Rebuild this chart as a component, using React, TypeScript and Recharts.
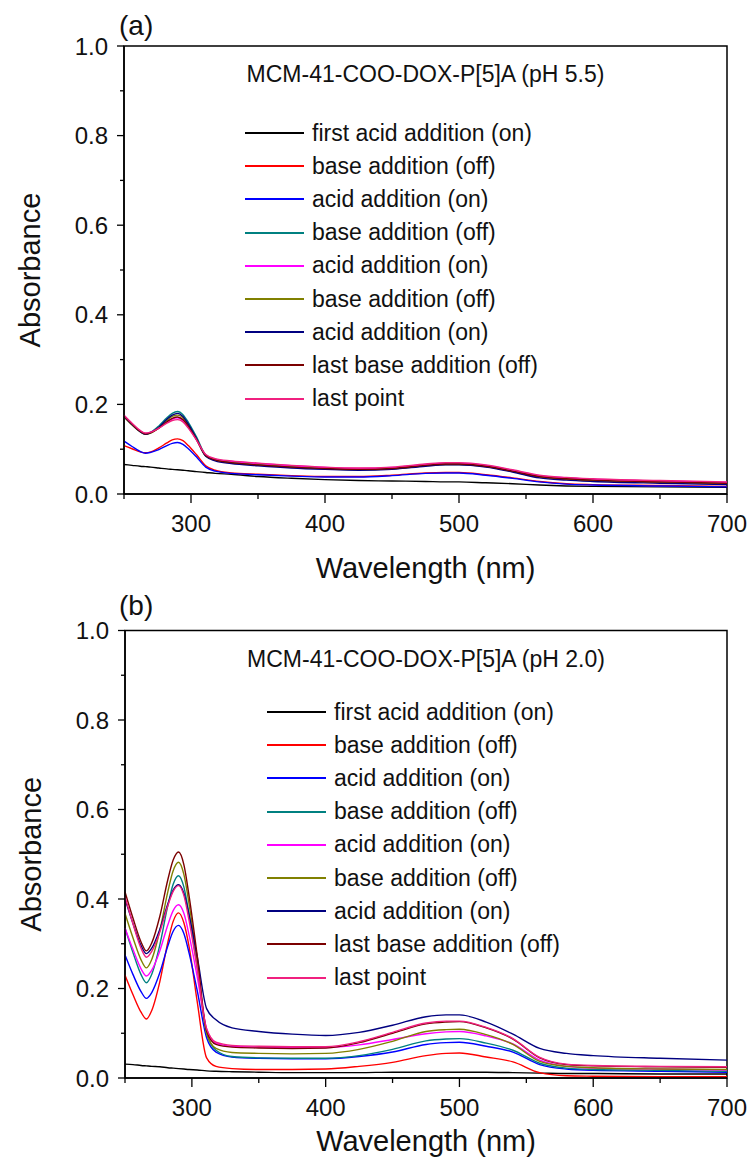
import React from 'react';
import { LineChart, Line, XAxis, YAxis, Legend, ReferenceArea, Label } from 'recharts';

const FONT = '"Liberation Sans", Arial, sans-serif';

// wavelength grid (nm)
const WAVELENGTHS = [250, 256, 262, 266, 270, 276, 282, 286, 290, 294, 298, 304, 311, 318, 330, 350, 375, 400, 425, 450, 475, 490, 500, 520, 540, 560, 580, 600, 650, 700];

const SERIES_NAMES = [
  'first acid addition (on)',
  'base addition (off)',
  'acid addition (on)',
  'base addition (off)',
  'acid addition (on)',
  'base addition (off)',
  'acid addition (on)',
  'last base addition (off)',
  'last point',
];
const SERIES_COLORS = ['#000000', '#ff0000', '#0000ff', '#008080', '#ff00ff', '#808000', '#000080', '#7b0000', '#f0207f'];

const X_TICKS = [250, 300, 350, 400, 450, 500, 550, 600, 650, 700];
const Y_TICKS = [0, 0.1, 0.2, 0.3, 0.4, 0.5, 0.6, 0.7, 0.8, 0.9, 1.0];

// (a) pH 5.5
const A_FIRST_ACID = [0.066, 0.064, 0.062, 0.061, 0.060, 0.058, 0.056, 0.055, 0.054, 0.053, 0.052, 0.050, 0.048, 0.046, 0.044, 0.039, 0.035, 0.032, 0.030, 0.029, 0.028, 0.027, 0.027, 0.025, 0.023, 0.020, 0.018, 0.017, 0.016, 0.015];
const A_BASE_1 = [0.108, 0.101, 0.094, 0.092, 0.094, 0.103, 0.114, 0.121, 0.123, 0.119, 0.108, 0.088, 0.063, 0.053, 0.047, 0.044, 0.041, 0.039, 0.039, 0.042, 0.047, 0.048, 0.048, 0.043, 0.036, 0.028, 0.023, 0.021, 0.019, 0.017];
const A_ACID_1 = [0.118, 0.106, 0.095, 0.091, 0.093, 0.099, 0.108, 0.113, 0.115, 0.111, 0.101, 0.083, 0.060, 0.051, 0.046, 0.043, 0.040, 0.038, 0.038, 0.041, 0.046, 0.047, 0.047, 0.042, 0.035, 0.027, 0.022, 0.020, 0.018, 0.016];
const A_BASE_2 = [0.174, 0.156, 0.140, 0.134, 0.138, 0.152, 0.170, 0.180, 0.184, 0.177, 0.160, 0.128, 0.087, 0.077, 0.071, 0.066, 0.061, 0.057, 0.055, 0.057, 0.064, 0.067, 0.067, 0.062, 0.051, 0.039, 0.034, 0.031, 0.027, 0.024];
const A_ACID_2 = [0.175, 0.157, 0.141, 0.135, 0.138, 0.147, 0.160, 0.167, 0.170, 0.164, 0.149, 0.122, 0.087, 0.078, 0.073, 0.068, 0.063, 0.059, 0.057, 0.059, 0.066, 0.069, 0.069, 0.064, 0.053, 0.041, 0.036, 0.033, 0.029, 0.026];
const A_BASE_3 = [0.172, 0.154, 0.139, 0.133, 0.136, 0.148, 0.164, 0.173, 0.176, 0.170, 0.153, 0.123, 0.085, 0.076, 0.070, 0.065, 0.060, 0.056, 0.054, 0.056, 0.063, 0.066, 0.066, 0.061, 0.050, 0.038, 0.033, 0.030, 0.026, 0.023];
const A_ACID_3 = [0.173, 0.155, 0.139, 0.133, 0.137, 0.149, 0.167, 0.176, 0.180, 0.173, 0.156, 0.124, 0.084, 0.074, 0.068, 0.063, 0.058, 0.055, 0.053, 0.055, 0.062, 0.065, 0.065, 0.060, 0.049, 0.036, 0.031, 0.028, 0.024, 0.021];
const A_LAST_BASE = [0.174, 0.156, 0.140, 0.134, 0.137, 0.147, 0.161, 0.169, 0.172, 0.166, 0.151, 0.122, 0.086, 0.076, 0.070, 0.065, 0.060, 0.057, 0.055, 0.057, 0.064, 0.067, 0.067, 0.062, 0.051, 0.039, 0.034, 0.031, 0.027, 0.024];
const A_LAST_POINT = [0.176, 0.158, 0.142, 0.136, 0.138, 0.147, 0.158, 0.164, 0.166, 0.161, 0.147, 0.121, 0.088, 0.079, 0.074, 0.069, 0.064, 0.060, 0.058, 0.060, 0.067, 0.070, 0.070, 0.065, 0.054, 0.042, 0.037, 0.034, 0.030, 0.027];

// (b) pH 2.0
const B_FIRST_ACID = [0.031, 0.030, 0.028, 0.027, 0.026, 0.025, 0.023, 0.022, 0.021, 0.020, 0.019, 0.018, 0.016, 0.015, 0.014, 0.013, 0.012, 0.012, 0.012, 0.013, 0.013, 0.013, 0.013, 0.013, 0.012, 0.011, 0.010, 0.010, 0.009, 0.009];
const B_BASE_1 = [0.230, 0.186, 0.147, 0.132, 0.151, 0.215, 0.303, 0.350, 0.369, 0.347, 0.292, 0.170, 0.045, 0.026, 0.021, 0.019, 0.019, 0.020, 0.026, 0.035, 0.050, 0.055, 0.056, 0.047, 0.036, 0.012, 0.005, 0.004, 0.003, 0.003];
const B_ACID_1 = [0.275, 0.231, 0.193, 0.178, 0.191, 0.235, 0.295, 0.328, 0.341, 0.323, 0.278, 0.195, 0.090, 0.058, 0.047, 0.044, 0.043, 0.043, 0.048, 0.058, 0.075, 0.079, 0.080, 0.071, 0.058, 0.030, 0.020, 0.017, 0.015, 0.013];
const B_BASE_2 = [0.335, 0.280, 0.231, 0.213, 0.232, 0.297, 0.385, 0.433, 0.452, 0.427, 0.364, 0.248, 0.100, 0.062, 0.048, 0.045, 0.044, 0.044, 0.050, 0.064, 0.083, 0.087, 0.088, 0.078, 0.062, 0.033, 0.022, 0.019, 0.017, 0.015];
const B_ACID_2 = [0.335, 0.287, 0.244, 0.228, 0.241, 0.284, 0.342, 0.374, 0.387, 0.368, 0.318, 0.226, 0.110, 0.078, 0.071, 0.069, 0.068, 0.068, 0.074, 0.086, 0.099, 0.103, 0.104, 0.094, 0.076, 0.040, 0.026, 0.022, 0.020, 0.018];
const B_BASE_3 = [0.368, 0.313, 0.264, 0.246, 0.265, 0.329, 0.416, 0.463, 0.482, 0.455, 0.387, 0.260, 0.100, 0.066, 0.057, 0.055, 0.054, 0.055, 0.064, 0.082, 0.104, 0.108, 0.109, 0.097, 0.075, 0.037, 0.026, 0.023, 0.020, 0.019];
const B_ACID_3 = [0.400, 0.345, 0.296, 0.278, 0.290, 0.332, 0.389, 0.420, 0.432, 0.413, 0.363, 0.271, 0.155, 0.130, 0.112, 0.104, 0.098, 0.095, 0.102, 0.118, 0.137, 0.141, 0.141, 0.125, 0.098, 0.066, 0.055, 0.050, 0.044, 0.040];
const B_LAST_BASE = [0.416, 0.357, 0.304, 0.284, 0.302, 0.361, 0.443, 0.487, 0.505, 0.477, 0.405, 0.273, 0.105, 0.075, 0.069, 0.067, 0.066, 0.067, 0.079, 0.100, 0.121, 0.125, 0.126, 0.112, 0.087, 0.045, 0.030, 0.027, 0.025, 0.024];
const B_LAST_POINT = [0.405, 0.344, 0.290, 0.270, 0.283, 0.326, 0.385, 0.417, 0.430, 0.408, 0.350, 0.244, 0.110, 0.080, 0.073, 0.071, 0.070, 0.070, 0.081, 0.102, 0.123, 0.127, 0.127, 0.113, 0.088, 0.046, 0.031, 0.028, 0.026, 0.025];

const PANEL_A = [A_FIRST_ACID, A_BASE_1, A_ACID_1, A_BASE_2, A_ACID_2, A_BASE_3, A_ACID_3, A_LAST_BASE, A_LAST_POINT];
const PANEL_B = [B_FIRST_ACID, B_BASE_1, B_ACID_1, B_BASE_2, B_ACID_2, B_BASE_3, B_ACID_3, B_LAST_BASE, B_LAST_POINT];

const buildRows = (series: number[][]) =>
  WAVELENGTHS.map((w, i) => {
    const row: Record<string, number> = { w };
    series.forEach((s, k) => {
      row['s' + k] = s[i];
    });
    return row;
  });

const XTick = ({ x, y, payload }: any) => {
  const v = payload.value;
  const major = v % 100 === 0;
  return (
    <g>
      <line x1={x} x2={x} y1={y} y2={y + (major ? 9 : 5)} stroke="#000" strokeWidth={1.3} />
      {major && v !== 250 && (
        <text x={x} y={y + 29} textAnchor="middle" dominantBaseline="central" fontSize={24} fontFamily={FONT} fill="#111">
          {v}
        </text>
      )}
    </g>
  );
};

const YTick = ({ x, y, payload }: any) => {
  const v = payload.value;
  const major = Math.round(v * 10) % 2 === 0;
  return (
    <g>
      <line x1={x - (major ? 7 : 4)} x2={x} y1={y} y2={y} stroke="#000" strokeWidth={1.3} />
      {major && (
        <text x={x - 16} y={y} textAnchor="end" dominantBaseline="central" fontSize={24} fontFamily={FONT} fill="#111">
          {v.toFixed(1)}
        </text>
      )}
    </g>
  );
};

// legend keeps the series order of the original figure
const renderLegend = () => (
  <div style={{ fontFamily: FONT, fontSize: 23, color: '#111' }}>
    {SERIES_NAMES.map((name, i) => (
      <div key={i} style={{ display: 'flex', alignItems: 'center', height: 33.2, whiteSpace: 'nowrap' }}>
        <div style={{ width: 59, height: 0, borderTop: `2px solid ${SERIES_COLORS[i]}`, marginRight: 8 }} />
        <span>{name}</span>
      </div>
    ))}
  </div>
);

interface PanelProps {
  series: number[][];
  title: string;
  tag: string;
  top: number;
  height: number;
  margin: { top: number; right: number; bottom: number; left: number };
  xTitleOffset: number;
  legendLeft: number;
  legendTop: number;
}

const Panel: React.FC<PanelProps> = ({ series, title, tag, top, height, margin, xTitleOffset, legendLeft, legendTop }) => {
  const rows = buildRows(series);
  return (
    <div style={{ position: 'absolute', left: 0, top, width: 752, height }}>
      <div style={{ position: 'absolute', left: 119, top: 12, fontSize: 28, lineHeight: '28px', fontFamily: FONT, color: '#111', zIndex: 2 }}>
        {tag}
      </div>
      <LineChart width={752} height={height} data={rows} margin={margin}>
        <XAxis
          dataKey="w"
          type="number"
          domain={[250, 700]}
          ticks={X_TICKS}
          interval={0}
          height={1}
          tickSize={0}
          tickMargin={0}
          tickLine={false}
          tick={(p: any) => <XTick {...p} />}
          axisLine={{ stroke: '#000', strokeWidth: 1.5 }}
        >
          <Label
            content={(p: any) => {
              const vb = p.viewBox;
              return (
                <text x={vb.x + vb.width / 2} y={vb.y + xTitleOffset} textAnchor="middle" dominantBaseline="central" fontSize={29} fontFamily={FONT} fill="#111">
                  Wavelength (nm)
                </text>
              );
            }}
          />
        </XAxis>
        <YAxis
          type="number"
          domain={[0, 1]}
          ticks={Y_TICKS}
          interval={0}
          width={1}
          tickSize={0}
          tickMargin={0}
          tickLine={false}
          tick={(p: any) => <YTick {...p} />}
          axisLine={{ stroke: '#000', strokeWidth: 1.5 }}
        >
          <Label
            content={(p: any) => {
              const vb = p.viewBox;
              const cx = vb.x + vb.width - 94;
              const cy = vb.y + vb.height / 2;
              return (
                <text x={cx} y={cy} transform={`rotate(-90 ${cx} ${cy})`} textAnchor="middle" dominantBaseline="central" fontSize={29} fontFamily={FONT} fill="#111">
                  Absorbance
                </text>
              );
            }}
          />
        </YAxis>
        <ReferenceArea
          x1={250}
          x2={700}
          y1={0}
          y2={1}
          fill="none"
          fillOpacity={0}
          stroke="#000"
          strokeWidth={1.5}
          label={{ value: title, position: 'insideTop', offset: 20, fill: '#111', fontSize: 23, fontFamily: FONT }}
        />
        {series.map((_, k) => (
          <Line
            key={k}
            dataKey={'s' + k}
            name={SERIES_NAMES[k]}
            type="monotone"
            stroke={SERIES_COLORS[k]}
            strokeWidth={1.4}
            dot={false}
            activeDot={false}
            isAnimationActive={false}
          />
        ))}
        <Legend
          layout="vertical"
          align="center"
          verticalAlign="middle"
          wrapperStyle={{ left: legendLeft, top: legendTop, width: 'auto' }}
          content={renderLegend}
        />
      </LineChart>
    </div>
  );
};

export default function App() {
  return (
    <div style={{ position: 'absolute', left: 0, top: 0, width: 752, height: 1158, background: '#fff', fontFamily: FONT }}>
      <Panel
        series={PANEL_A}
        title="MCM-41-COO-DOX-P[5]A (pH 5.5)"
        tag="(a)"
        top={0}
        height={600}
        margin={{ top: 46, right: 25, bottom: 105, left: 123 }}
        xTitleOffset={74}
        legendLeft={245}
        legendTop={116.5}
      />
      <Panel
        series={PANEL_B}
        title="MCM-41-COO-DOX-P[5]A (pH 2.0)"
        tag="(b)"
        top={580}
        height={578}
        margin={{ top: 50.5, right: 25, bottom: 79, left: 124 }}
        xTitleOffset={63}
        legendLeft={267}
        legendTop={115.5}
      />
    </div>
  );
}
